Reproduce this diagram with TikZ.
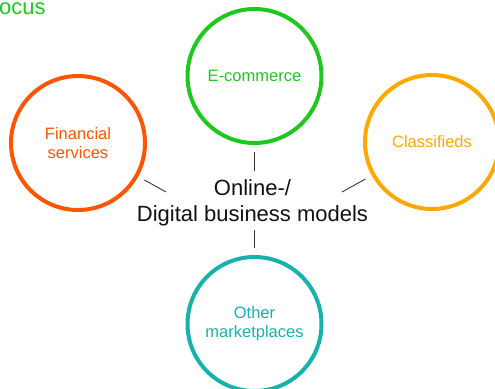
\documentclass[tikz,border=0pt]{standalone}
\usepackage{fontspec}
\setmainfont{Liberation Sans}
\definecolor{ecomgreen}{HTML}{1EC81E}
\definecolor{finorange}{HTML}{FF5500}
\definecolor{clsamber}{HTML}{FFA800}
\definecolor{mkteal}{HTML}{16B2AD}
\definecolor{ink}{HTML}{111111}
\begin{document}
\begin{tikzpicture}[x=1pt,y=-1pt,
  bubble/.style={circle, draw=#1, text=#1, line width=4pt, minimum size=134pt,
    inner sep=0pt, align=center, font=\fontsize{16.5}{19}\selectfont},
  hubtext/.style={align=center, text=ink, inner sep=0pt,
    font=\fontsize{22}{26.5}\selectfont},
  conn/.style={draw=ink!85, line width=0.9pt, shorten <=7pt},
]
\useasboundingbox (0,0) rectangle (495,388);

% heading fragment
\node[anchor=base west, inner sep=0pt, text=ecomgreen,
  font=\fontsize{22}{26}\selectfont] (head) at (-1,14) {ocus};

% business model bubbles
\node[bubble=ecomgreen] (ecom)  at (254.5,76)  {E-commerce};
\node[bubble=finorange] (fin)   at (78,143)    {Financial\\services};
\node[bubble=clsamber]  (cls)   at (432,142)   {Classifieds};
\node[bubble=mkteal]    (other) at (254.5,324) {Other\\marketplaces};

% central label
\node[hubtext] (hub) at (252.5,203) {Online-/\\Digital business models};

% connector ends next to the central label
\coordinate (cT) at (254.5,171);
\coordinate (cL) at (166,192);
\coordinate (cR) at (342,192);
\coordinate (cB) at (254.5,230);

\draw[conn] (ecom)  -- (cT);
\draw[conn] (fin)   -- (cL);
\draw[conn] (cls)   -- (cR);
\draw[conn] (other) -- (cB);
\end{tikzpicture}
\end{document}
